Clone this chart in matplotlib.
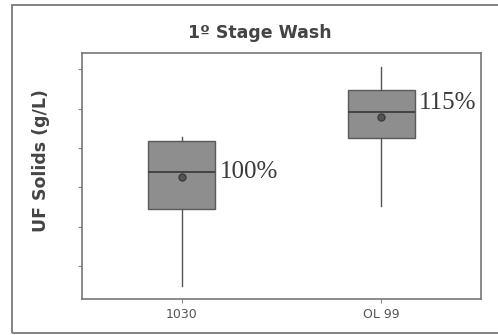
import matplotlib.pyplot as plt
from matplotlib.patches import Rectangle

groups = ["1030", "OL 99"]
whisker_low = [0.49, 2.52]
q1 = [2.45, 4.25]
median = [3.39, 4.91]
mean = [3.26, 4.78]
q3 = [4.17, 5.47]
whisker_high = [4.27, 6.05]
pct_labels = ["100%", "115%"]
pct_y = [3.39, 5.15]

stats = []
for i in range(len(groups)):
    stats.append({"label": groups[i], "whislo": whisker_low[i], "q1": q1[i],
                  "med": median[i], "mean": mean[i], "q3": q3[i],
                  "whishi": whisker_high[i], "fliers": []})

fig = plt.figure(figsize=(4.98, 3.35), dpi=100)
ax = fig.add_axes([0.1647, 0.1075, 0.801, 0.734])

# grey frame round the whole chart (right side is cut off in the original)
fig.patches.append(Rectangle((12 / 498, 2 / 335), 1.2, 328 / 335, transform=fig.transFigure,
                             fill=False, edgecolor="#7a7a7a", linewidth=1.3, clip_on=False))

ax.bxp(stats, positions=[1, 2], widths=0.335, showmeans=True, patch_artist=True,
       showcaps=False,
       boxprops=dict(facecolor="#8e8e8e", edgecolor="#5a5a5a", linewidth=1.0),
       medianprops=dict(color="#3e3e3e", linewidth=1.3),
       whiskerprops=dict(color="#555555", linewidth=1.0),
       meanprops=dict(marker="o", markersize=5, markerfacecolor="#555555",
                      markeredgecolor="#3a3a3a"))

for i in range(len(groups)):
    ax.text(i + 1 + 0.19, pct_y[i], pct_labels[i], family="Liberation Serif",
            fontsize=18, color="#3a3a3a", va="center", ha="left")

ax.set_xlim(0.5, 2.5)
ax.set_ylim(0.16, 6.41)
ax.set_yticks([1, 2, 3, 4, 5, 6])
ax.set_yticklabels([])
ax.set_xticks([1, 2])
ax.set_xticklabels(groups, fontsize=9, color="#555555")
ax.tick_params(axis="both", direction="out", length=3, color="#888888")
for s in ax.spines.values():
    s.set_color("#777777")
    s.set_linewidth(1.2)

fig.text(0.522, 0.90, "1º Stage Wash", fontsize=12.5, fontweight="bold",
         color="#444444", ha="center", va="center")
fig.text(0.082, 0.522, "UF Solids (g/L)", fontsize=12.5, fontweight="bold",
         color="#444444", ha="center", va="center", rotation=90)

fig.savefig("out.png", dpi=100)
